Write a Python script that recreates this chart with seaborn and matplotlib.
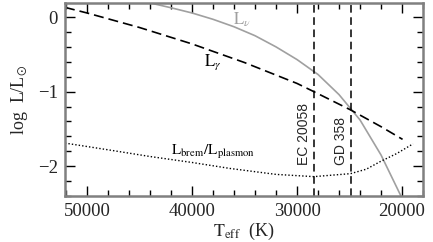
import matplotlib
matplotlib.use("Agg")
import matplotlib.pyplot as plt
import seaborn as sns
import pandas as pd
from matplotlib.ticker import MultipleLocator

# Photon luminosity L_gamma
t_gamma = [52100, 50000, 45000, 40000, 35000, 30000, 28400, 24900, 22000, 19950]
l_gamma = [0.13, 0.055, -0.14, -0.36, -0.61, -0.89, -1.0, -1.245, -1.47, -1.64]

# Neutrino luminosity L_nu
t_nu = [44000, 42000, 40000, 38000, 36000, 34000, 32000, 30000, 28000, 26000, 24000, 22000, 20000]
l_nu = [0.19, 0.125, 0.055, -0.03, -0.13, -0.25, -0.40, -0.57, -0.77, -1.04, -1.38, -1.85, -2.43]

# Ratio L_brem / L_plasmon
t_ratio = [52100, 48000, 44000, 40000, 36400, 32000, 28400, 24900, 23400, 22100, 20500, 18950]
l_ratio = [-1.69, -1.78, -1.87, -1.95, -2.03, -2.11, -2.14, -2.10, -2.04, -1.94, -1.83, -1.70]

# Stars
star_names = ["EC 20058", "GD 358"]
star_teff = [28400, 24900]

sns.set_style("ticks")
plt.rcParams["font.family"] = ["Liberation Serif", "DejaVu Serif"]
plt.rcParams["mathtext.fontset"] = "stix"

fig = plt.figure(figsize=(4.33, 2.42), dpi=100)
ax = fig.add_axes([0.150, 0.190, 0.827, 0.798])

df_g = pd.DataFrame({"T": t_gamma, "L": l_gamma})
df_n = pd.DataFrame({"T": t_nu, "L": l_nu})
df_r = pd.DataFrame({"T": t_ratio, "L": l_ratio})

sns.lineplot(data=df_n, x="T", y="L", ax=ax, color="#a0a0a0", lw=1.2, sort=False)
sns.lineplot(data=df_g, x="T", y="L", ax=ax, color="black", lw=1.2, sort=False,
             dashes=False, linestyle=(0, (6, 3)))
sns.lineplot(data=df_r, x="T", y="L", ax=ax, color="black", lw=1.0, sort=False,
             linestyle=(0, (1, 1.5)))

for name, t in zip(star_names, star_teff):
    ax.axvline(t, color="black", lw=1.1, linestyle=(0, (5, 3)))
    ax.text(t + 250, -1.98, name, rotation=90, ha="right", va="bottom",
            fontsize=10, family=["Liberation Sans", "DejaVu Sans"])

ax.text(35240, -0.04, r"$\mathrm{L}_{\nu}$", color="#a0a0a0", fontsize=12, ha="center", va="center")
ax.text(38070, -0.60, r"$\mathrm{L}_{\gamma}$", color="black", fontsize=12, ha="center", va="center")
ax.text(37970, -1.81, r"$\mathrm{L}_{\mathrm{brem}}/\mathrm{L}_{\mathrm{plasmon}}$", color="black",
        fontsize=11, ha="center", va="center")

ax.set_xlim(52100, 18000)
ax.set_ylim(-2.40, 0.19)
ax.xaxis.set_major_locator(MultipleLocator(10000))
ax.xaxis.set_minor_locator(MultipleLocator(2000))
ax.yaxis.set_major_locator(MultipleLocator(1))
ax.yaxis.set_minor_locator(MultipleLocator(0.2))
ax.tick_params(which="both", direction="in", top=True, right=True, color="black", width=1.0)
ax.tick_params(which="major", length=7, labelsize=13.5, pad=5)
ax.tick_params(which="minor", length=4)
for s in ax.spines.values():
    s.set_color("#808080")
    s.set_linewidth(1.8)

ax.set_xlabel(r"$\mathrm{T}_{\mathrm{eff}}$  (K)", fontsize=13, labelpad=1)
ax.set_ylabel(r"log  L/L$_{\odot}$", fontsize=13, labelpad=6)

fig.savefig("out.png", dpi=100)
